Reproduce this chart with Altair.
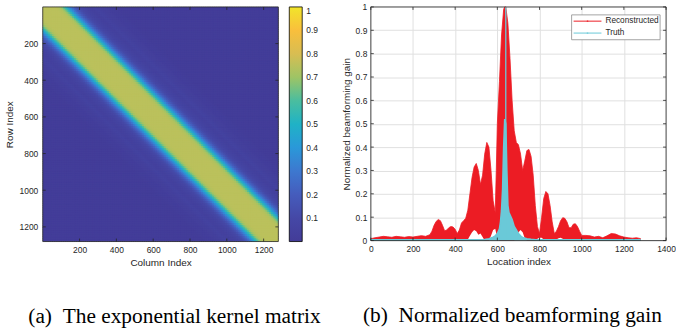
import altair as alt
import pandas as pd

# ---------------- Left panel: exponential kernel matrix ----------------
N_SIZE = 1280
CELL = 10
# kernel value against |row - column| offset, in steps of 10 indices
KERNEL_PROFILE = [0.75, 0.75, 0.75, 0.75, 0.75, 0.75, 0.75, 0.745, 0.74, 0.72,
                  0.68, 0.61, 0.53, 0.44, 0.36, 0.29, 0.23, 0.18, 0.14, 0.11,
                  0.09, 0.075, 0.065, 0.055, 0.05, 0.045, 0.045, 0.05, 0.055, 0.05,
                  0.04, 0.035, 0.03, 0.03, 0.025, 0.02, 0.02, 0.02, 0.015, 0.015, 0.01]
KERNEL_TAIL = 0.01
HEAT_TICKS = [200, 400, 600, 800, 1000, 1200]
CB_TICKS = [0.1, 0.2, 0.3, 0.4, 0.5, 0.6, 0.7, 0.8, 0.9, 1.0]
CB_DOMAIN = [0.0, 0.1, 0.2, 0.3, 0.4, 0.5, 0.6, 0.7, 0.8, 0.9, 1.0]
CB_COLORS = ["#433c98", "#4548a6", "#455cbc", "#3d78cf", "#2a98d9", "#1fb2c6",
             "#4abd9f", "#9ec465", "#d8bd52", "#f9bf3c", "#f1e52a"]

# ---------------- Right panel: normalized beamforming gain ----------------
RECON_X = [0, 20, 40, 60, 80, 100, 120, 140, 160, 180, 200, 220, 240, 260, 280,
           290, 300, 310, 320, 330, 340, 350, 360, 370, 380, 390, 400, 410, 420, 430,
           440, 450, 460, 470, 480, 490, 500, 510, 520, 530, 540, 550, 560, 570, 580,
           590, 595, 600, 610, 620, 630, 635, 640, 650, 660, 670, 680, 690, 700, 710,
           720, 730, 740, 750, 760, 770, 780, 790, 800, 810, 820, 830, 840, 850, 860,
           870, 880, 890, 900, 910, 920, 930, 940, 950, 960, 970, 980, 990, 1000,
           1020, 1040, 1060, 1080, 1100, 1120, 1140, 1160, 1180, 1200, 1220, 1240, 1260, 1280]
RECON_HI = [0.008, 0.012, 0.015, 0.018, 0.016, 0.014, 0.018, 0.016, 0.014, 0.017, 0.015, 0.018, 0.021, 0.018, 0.025,
            0.04, 0.065, 0.082, 0.09, 0.085, 0.065, 0.042, 0.045, 0.055, 0.06, 0.058, 0.048, 0.03, 0.045, 0.075,
            0.085, 0.095, 0.13, 0.2, 0.27, 0.315, 0.33, 0.3, 0.24, 0.28, 0.37, 0.42, 0.40, 0.3, 0.17,
            0.12, 0.3, 0.5, 0.68, 0.88, 0.99, 1.0, 1.0, 0.93, 0.78, 0.6, 0.47, 0.42, 0.41, 0.37,
            0.3, 0.34, 0.385, 0.39, 0.36, 0.28, 0.15, 0.06, 0.03, 0.1, 0.18, 0.21, 0.2, 0.15, 0.08,
            0.03, 0.04, 0.06, 0.085, 0.098, 0.095, 0.08, 0.055, 0.055, 0.07, 0.072, 0.06, 0.04, 0.022,
            0.022, 0.02, 0.015, 0.018, 0.012, 0.02, 0.03, 0.028, 0.02, 0.015, 0.012, 0.01, 0.012, 0.008]
RECON_LO = [0, 0, 0, 0, 0, 0, 0, 0, 0, 0, 0, 0, 0, 0, 0,
            0, 0, 0, 0, 0, 0, 0, 0, 0, 0, 0, 0, 0, 0, 0,
            0, 0, 0.005, 0.02, 0.035, 0.045, 0.04, 0.025, 0.03, 0.015, 0, 0, 0, 0.02, 0.045,
            0.05, 0.03, 0.01, 0, 0, 0, 0, 0, 0, 0, 0, 0, 0.015, 0.035, 0.045,
            0.035, 0.01, 0, 0, 0, 0, 0, 0.008, 0.012, 0.012, 0.005, 0, 0, 0, 0,
            0, 0.005, 0.01, 0.012, 0.008, 0, 0, 0, 0, 0, 0, 0, 0, 0,
            0, 0, 0, 0, 0, 0, 0, 0, 0, 0, 0, 0, 0, 0]
TRUTH_X = [0, 100, 200, 300, 400, 500, 540, 560, 580, 590, 600, 610, 615, 620, 625, 630,
           635, 640, 645, 650, 655, 660, 670, 680, 690, 700, 710, 720, 740, 760, 780, 800,
           900, 1000, 1100, 1200, 1280]
TRUTH_HI = [0.003, 0.003, 0.003, 0.003, 0.003, 0.003, 0.004, 0.008, 0.014, 0.02, 0.03, 0.05, 0.08, 0.13, 0.22, 0.4,
            0.52, 0.5, 0.3, 0.15, 0.12, 0.11, 0.09, 0.06, 0.045, 0.03, 0.02, 0.013, 0.008, 0.005, 0.003, 0.003,
            0.003, 0.003, 0.003, 0.003, 0.003]
TRUTH_PEAK_X = [640]
TRUTH_PEAK_Y = [1.0]
LOC_TICKS = [0, 200, 400, 600, 800, 1000, 1200, 1400]
GAIN_TICKS = [0, 0.1, 0.2, 0.3, 0.4, 0.5, 0.6, 0.7, 0.8, 0.9, 1.0]
SERIES = ["Reconstructed", "Truth"]
SERIES_COLORS = ["#ec1c24", "#6ac9d8"]

FONT = "Liberation Sans"
SERIF = "Liberation Serif"
TXT = "#262626"
AX = "#262626"

# ================= left chart =================
HW, HH = 237, 236
rows = []
n = N_SIZE // CELL
for i in range(n):
    for j in range(n):
        d = abs(i - j)
        v = KERNEL_PROFILE[d] if d < len(KERNEL_PROFILE) else KERNEL_TAIL
        rows.append((j * CELL, i * CELL, v))
heat_df = pd.DataFrame(rows, columns=["c", "r", "v"])

cscale = alt.Scale(domain=CB_DOMAIN, range=CB_COLORS, interpolate="rgb")
xs_h = alt.Scale(domain=[0, N_SIZE], nice=False, zero=False)
ys_h = alt.Scale(domain=[0, N_SIZE], nice=False, zero=False, reverse=True)
hx_ax = alt.Axis(title="Column Index", values=HEAT_TICKS, format="d", grid=False,
                 labelPadding=4, titlePadding=4)
hy_ax = alt.Axis(title="Row Index", values=HEAT_TICKS, format="d", grid=False,
                 labelPadding=5, titlePadding=5)

# each cell is drawn a little wider than its pitch; the next cell covers the overlap,
# which stops hairline seams appearing between neighbouring cells
OVER = 6
heat = alt.Chart(heat_df).transform_calculate(
    c2=f"min(datum.c + {CELL + OVER}, {N_SIZE})", r2=f"min(datum.r + {CELL + OVER}, {N_SIZE})"
).mark_rect(strokeWidth=0).encode(
    x=alt.X("c:Q", scale=xs_h, axis=hx_ax),
    x2="c2:Q",
    y=alt.Y("r:Q", scale=ys_h, axis=hy_ax),
    y2="r2:Q",
    fill=alt.Fill("v:Q", scale=cscale, legend=alt.Legend(
        title=None, values=CB_TICKS, format="~g", direction="vertical", orient="right",
        type="gradient",
        gradientLength=HH, gradientThickness=13, offset=11, labelOffset=4,
        labelFont=FONT, labelFontSize=8.5, labelColor=TXT, labelBaseline="middle",
        labelOverlap=False, gradientStrokeColor="#000000", gradientStrokeWidth=0.8)),
)

ht_df = pd.DataFrame({"t": HEAT_TICKS})
tick_rule = dict(color=AX, strokeWidth=0.8)
h_ticks = [
    alt.Chart(ht_df).mark_rule(**tick_rule).encode(x=alt.X("t:Q", scale=xs_h, axis=hx_ax), y=alt.value(0), y2=alt.value(3)),
    alt.Chart(ht_df).mark_rule(**tick_rule).encode(x=alt.X("t:Q", scale=xs_h, axis=hx_ax), y=alt.value(HH - 3), y2=alt.value(HH)),
    alt.Chart(ht_df).mark_rule(**tick_rule).encode(y=alt.Y("t:Q", scale=ys_h, axis=hy_ax), x=alt.value(0), x2=alt.value(3)),
    alt.Chart(ht_df).mark_rule(**tick_rule).encode(y=alt.Y("t:Q", scale=ys_h, axis=hy_ax), x=alt.value(HW - 3), x2=alt.value(HW)),
]
one = pd.DataFrame({"a": [0]})
h_frame = alt.Chart(one).mark_rect(filled=False, stroke=AX, strokeWidth=0.8).encode(
    x=alt.value(0), x2=alt.value(HW), y=alt.value(0), y2=alt.value(HH))

left = alt.layer(heat, *h_ticks, h_frame).properties(
    width=HW, height=HH,
    title=alt.TitleParams("(a)\u00a0\u00a0The exponential kernel matrix", orient="bottom",
                          font=SERIF, fontSize=21.5, fontWeight="normal", color="#000000",
                          anchor="middle", frame="group", offset=38, dx=14),
)

# ================= right chart =================
RW, RH = 297, 235
xs_r = alt.Scale(domain=[0, 1400], nice=False, zero=False)
ys_r = alt.Scale(domain=[0, 1], nice=False)
recon_df = pd.DataFrame({"x": RECON_X, "hi": RECON_HI, "lo": RECON_LO})
truth_df = pd.DataFrame({"x": TRUTH_X, "hi": TRUTH_HI, "lo": [0] * len(TRUTH_X)})
peak_df = pd.DataFrame({"x": TRUTH_PEAK_X, "y": TRUTH_PEAK_Y, "base": [0] * len(TRUTH_PEAK_X)})
red, cyan = SERIES_COLORS

xax = alt.Axis(title="Location index", values=LOC_TICKS, format="d", labelFlush=False,
               labelOverlap=False, grid=True, labelPadding=4, titlePadding=4)
yax = alt.Axis(title="Normalized beamforming gain", values=GAIN_TICKS, format="~g",
               labelFlush=False, labelOverlap=False, grid=True, labelPadding=4, titlePadding=4)

r_area = alt.Chart(recon_df).mark_area(color=red, opacity=1).encode(
    x=alt.X("x:Q", scale=xs_r, axis=xax), y=alt.Y("hi:Q", scale=ys_r, axis=yax), y2="lo:Q")
r_line = alt.Chart(recon_df).mark_line(color=red, strokeWidth=0.8).encode(
    x=alt.X("x:Q", scale=xs_r, axis=xax), y=alt.Y("hi:Q", scale=ys_r, axis=yax))
t_area = alt.Chart(truth_df).mark_area(color=cyan, opacity=1).encode(
    x=alt.X("x:Q", scale=xs_r, axis=xax), y=alt.Y("hi:Q", scale=ys_r, axis=yax), y2="lo:Q")
t_line = alt.Chart(truth_df).mark_line(color=cyan, strokeWidth=1.6).encode(
    x=alt.X("x:Q", scale=xs_r, axis=xax), y=alt.Y("hi:Q", scale=ys_r, axis=yax))
t_peak = alt.Chart(peak_df).mark_rule(color=cyan, strokeWidth=1.3).encode(
    x=alt.X("x:Q", scale=xs_r, axis=xax), y=alt.Y("base:Q", scale=ys_r, axis=yax), y2="y:Q")

lx_df = pd.DataFrame({"t": LOC_TICKS})
ly_df = pd.DataFrame({"t": GAIN_TICKS})
r_ticks = [
    alt.Chart(lx_df).mark_rule(**tick_rule).encode(x=alt.X("t:Q", scale=xs_r, axis=xax), y=alt.value(0), y2=alt.value(3)),
    alt.Chart(lx_df).mark_rule(**tick_rule).encode(x=alt.X("t:Q", scale=xs_r, axis=xax), y=alt.value(RH - 3), y2=alt.value(RH)),
    alt.Chart(ly_df).mark_rule(**tick_rule).encode(y=alt.Y("t:Q", scale=ys_r, axis=yax), x=alt.value(0), x2=alt.value(3)),
    alt.Chart(ly_df).mark_rule(**tick_rule).encode(y=alt.Y("t:Q", scale=ys_r, axis=yax), x=alt.value(RW - 3), x2=alt.value(RW)),
]
r_frame = alt.Chart(one).mark_rect(filled=False, stroke=AX, strokeWidth=0.8).encode(
    x=alt.value(0), x2=alt.value(RW), y=alt.value(0), y2=alt.value(RH))

# legend box
LX0, LX1, LY0, LY1 = 202, 291, 8, 33
leg_box = alt.Chart(one).mark_rect(fill="#ffffff", stroke="#8c8c8c", strokeWidth=0.8).encode(
    x=alt.value(LX0), x2=alt.value(LX1), y=alt.value(LY0), y2=alt.value(LY1))
leg_items = []
for k, (name, col) in enumerate(zip(SERIES, SERIES_COLORS)):
    yy = 14.3 + 12 * k
    leg_items.append(alt.Chart(one).mark_rule(color=col, strokeWidth=1).encode(
        x=alt.value(LX0 + 2), x2=alt.value(LX0 + 30), y=alt.value(yy)))
    leg_items.append(alt.Chart(one).mark_point(color=col, filled=True, size=3).encode(
        x=alt.value(LX0 + 16), y=alt.value(yy)))
    leg_items.append(alt.Chart(one).mark_text(text=name, font=FONT, fontSize=8.3, color=TXT,
                                              align="left", baseline="middle").encode(
        x=alt.value(LX0 + 34), y=alt.value(yy)))

right = alt.layer(r_area, r_line, t_area, t_line, t_peak, *r_ticks, r_frame, leg_box, *leg_items).properties(
    width=RW, height=RH,
    title=alt.TitleParams("(b)\u00a0\u00a0Normalized beamforming gain", orient="bottom",
                          font=SERIF, fontSize=21.5, fontWeight="normal", color="#000000",
                          anchor="middle", frame="group", offset=38, dx=-6),
)

chart = alt.hconcat(left, right, spacing=20).resolve_scale(
    x="independent", y="independent", fill="independent"
).resolve_legend(fill="independent").properties(
    padding={"left": 4, "top": 2, "right": 0, "bottom": 0}
).configure_view(stroke=None).configure_axis(
    labelFont=FONT, labelFontSize=8.5, labelColor=TXT,
    titleFont=FONT, titleFontSize=10, titleFontWeight="normal", titleColor=TXT,
    ticks=False, domain=False, gridColor="#e0e0e0", gridWidth=1,
)

chart.save("out.html", embed_options={"renderer": "svg", "actions": False})
